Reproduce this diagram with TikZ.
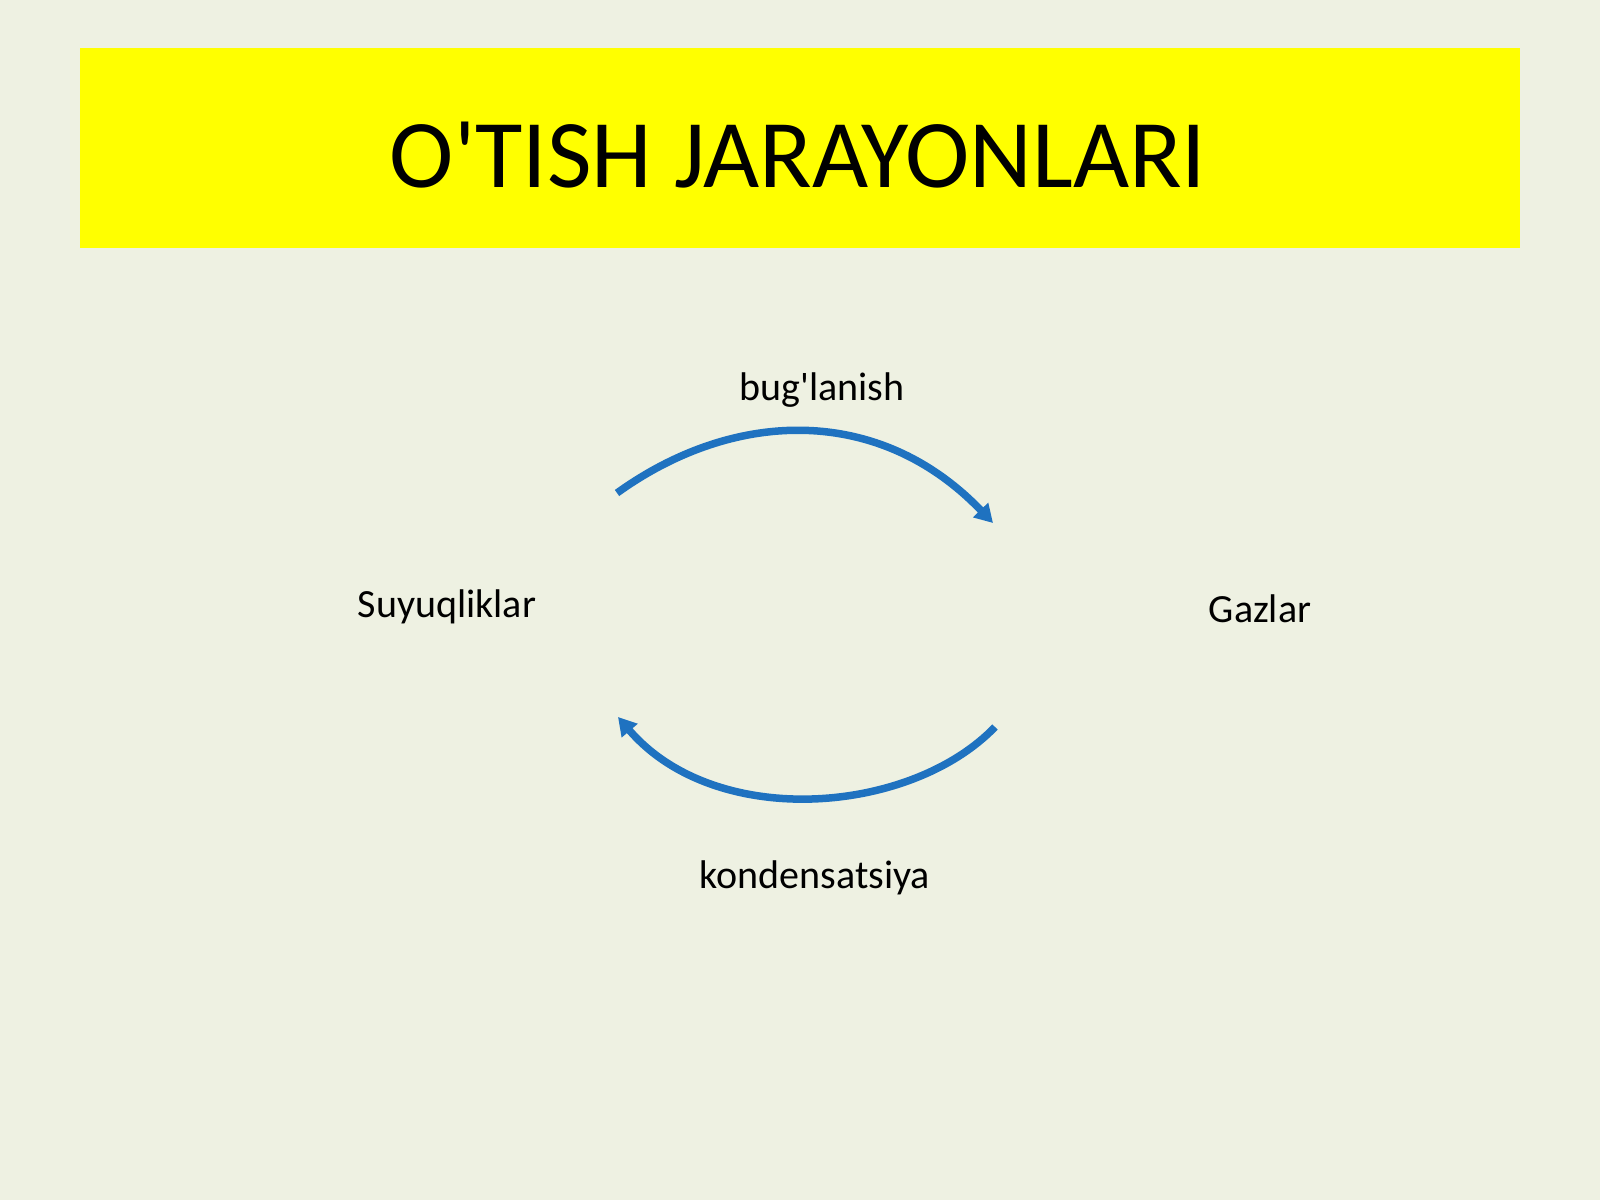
\documentclass[tikz,border=0pt]{standalone}
\usepackage{fontspec}
\setmainfont{Carlito}
\usetikzlibrary{arrows.meta}
\definecolor{bgc}{HTML}{EEF1E2}
\definecolor{arrc}{HTML}{1F72C0}
\definecolor{ttl}{HTML}{FFFF00}
\begin{document}
\begin{tikzpicture}[x=1pt,y=-1pt,
  lbl/.style={anchor=base,inner sep=0pt,font=\fontsize{40}{48}\selectfont},
  arr/.style={draw=arrc,line width=7.5pt,-{Triangle[length=18pt,width=20pt]}}]
\fill[bgc] (0,0) rectangle (1600,1200);
\useasboundingbox (0,0) rectangle (1600,1200);
\fill[ttl] (80,48) rectangle (1520,248);
\node[anchor=base,inner sep=0pt,font=\fontsize{97}{110}\selectfont] (title) at (798,187) {O\textquotesingle TISH JARAYONLARI};
\node[lbl] (liq) at (447,617) {Suyuqliklar};
\node[lbl] (gas) at (1260,622) {Gazlar};
\node[lbl] (evap) at (822,400) {bug\textquotesingle lanish};
\node[lbl] (cond) at (815,888) {kondensatsiya};
\coordinate (t0) at (617,493);
\coordinate (t1) at (993,523);
\coordinate (b0) at (995,727);
\coordinate (b1) at (618,717);
\draw[arr] (t0) .. controls (735,408) and (880,405) .. (t1);
\draw[arr] (b0) .. controls (910,815) and (715,830) .. (b1);
\end{tikzpicture}
\end{document}
